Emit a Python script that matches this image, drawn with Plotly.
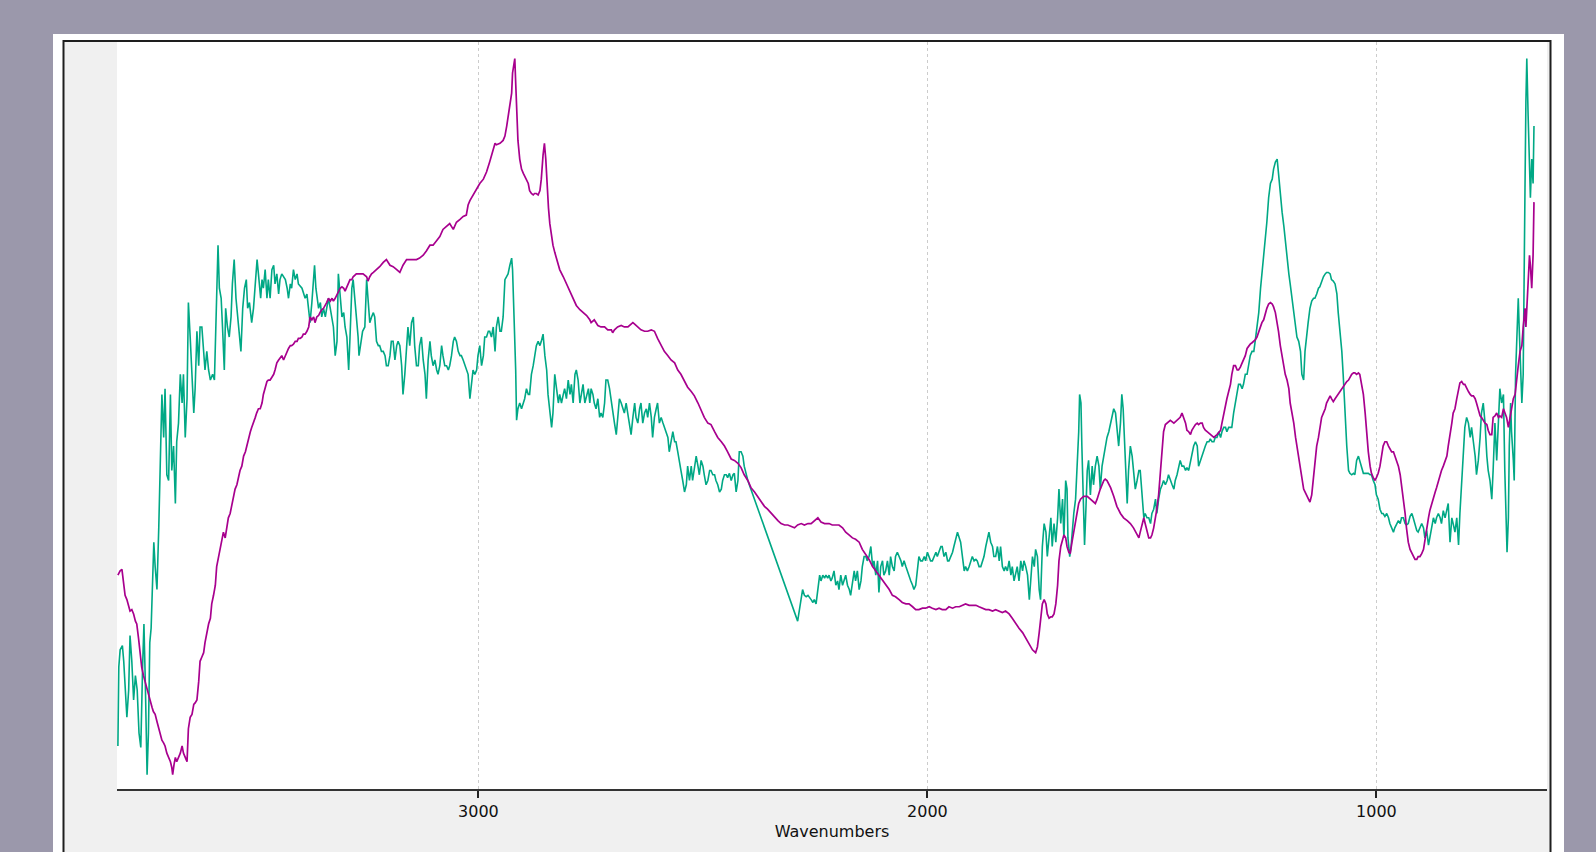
import plotly.graph_objects as go

# ---------------- data (arbitrary absorbance units) ----------------
green_wn = [3803,3801,3798,3793,3790,3787,3783,3779,3776,3772,3768,3764,3760,3756,3752,3748,3745,3742,3738,3735,3732,3729,3726,3723,3720,3716,3712,3708,3705,3701,3698,3694,3690,3686,3683,3679,3675,3672,3668,3664,3660,3657,3653,3649,3646,3642,3638,3634,3631,3627,3623,3620,3616,3612,3609,3605,3601,3597,3592,3588,3584,3580,3577,3573,3570,3566,3563,3559,3555,3551,3548,3544,3540,3536,3533,3529,3525,3521,3517,3514,3510,3505,3501,3497,3493,3490,3485,3482,3479,3475,3471,3468,3464,3460,3456,3453,3449,3445,3442,3438,3430,3426,3423,3419,3416,3412,3408,3404,3401,3393,3386,3382,3378,3375,3371,3367,3365,3362,3359,3356,3352,3349,3345,3341,3338,3334,3330,3326,3323,3319,3315,3312,3308,3304,3300,3297,3293,3289,3286,3282,
3279,3275,3272,3268,3266,3263,3258,3253,3249,3246,3242,3238,3234,3231,3227,3223,3220,3216,3212,3208,3205,3201,3197,3194,3190,3186,3182,3179,3175,3171,3168,3164,3160,3157,3153,3149,3145,3142,3138,3134,3131,3127,3123,3119,3116,3112,3108,3105,3101,3097,3093,3090,3086,3082,3079,3075,3071,3067,3064,3060,3056,3053,3049,3045,3041,3038,3034,3030,3027,3023,3019,3015,3012,3008,3004,3001,2997,2993,2989,2986,2982,2978,2975,2971,2967,2963,2960,2956,2952,2949,2945,2941,2937,2934,2930,2926,2924,2922,2920,2917,2915,2912,2908,2904,2900,2897,2893,2889,2886,2882,2878,2875,2871,2867,2863,2860,2856,2852,2848,2845,2841,2837,2834,2830,2826,2822,2819,2815,2811,2808,2804,2800,2796,2793,2789,2785,2782,2778,2774,2770,2767,2763,2759,2755,2752,
2749,2745,2742,2738,2734,2730,2727,2723,2719,2716,2712,2708,2704,2701,2697,2693,2690,2686,2682,2678,2675,2671,2667,2664,2660,2656,2652,2649,2645,2641,2638,2634,2630,2626,2623,2619,2615,2612,2608,2604,2601,2597,2593,2589,2586,2582,2578,2575,2571,2567,2563,2560,2556,2552,2549,2545,2541,2537,2534,2530,2526,2523,2519,2515,2511,2508,2504,2500,2497,2493,2489,2485,2482,2478,2474,2471,2467,2463,2459,2456,2452,2448,2445,2441,2437,2433,2430,2426,2422,2419,2415,2411,2408,2400,2289,2285,2281,2278,2274,2270,2266,2263,2259,2255,2252,2248,2244,2240,2237,2233,2229,2226,2222,
2219,2215,2212,2208,2204,2200,2197,2193,2189,2186,2182,2178,2174,2171,2167,2163,2160,2156,2152,2148,2145,2141,2137,2134,2130,2126,2122,2119,2115,2111,2108,2104,2100,2097,2093,2089,2085,2082,2078,2074,2071,2067,2063,2059,2056,2052,2048,2045,2041,2037,2033,2030,2026,2022,2019,2015,2011,2007,2004,2000,1996,1993,1989,1985,1981,1978,1974,1970,1967,1963,1959,1955,1952,1948,1944,1941,1937,1933,1929,1926,1922,1918,1915,1911,1907,1903,1900,1896,1892,1889,1885,1881,1877,1874,1870,1866,1863,1859,1855,1852,1848,1844,1840,1837,1833,1829,1826,1822,1818,1814,1811,1807,1803,1800,1796,1792,1788,1785,1781,1777,1773,1770,1766,1762,1759,1755,1751,1748,1744,1740,1736,1733,1729,1725,1722,1718,1714,1710,1707,1703,1699,1696,1692,
1689,1687,1683,1680,1677,1674,1670,1667,1663,1661,1658,1656,1653,1650,1647,1644,1641,1637,1633,1630,1626,1622,1618,1615,1611,1607,1604,1600,1596,1592,1589,1585,1581,1578,1574,1570,1567,1564,1561,1558,1555,1552,1548,1544,1541,1537,1533,1529,1526,1522,1518,1515,1511,1507,1503,1500,1496,1492,1489,1485,1481,1477,1474,1470,1466,1463,1459,1455,1451,1448,1444,1440,1437,1433,1429,1425,1422,1418,1414,1411,1407,1403,1399,1396,1392,1388,1385,1381,1377,1373,1370,1366,1362,1359,1355,1351,1347,1344,1340,1336,1333,1329,1325,1322,1318,1314,1310,1307,1303,1299,1296,1292,1288,1284,1281,1277,1273,1270,1266,1262,1258,1255,1251,1247,1244,1240,1236,1232,1229,1225,1221,1218,1214,1210,1206,1203,1199,1195,1192,1188,1184,1180,1177,1173,1169,1166,1162,
1159,1155,1152,1148,1144,1140,1137,1133,1129,1126,1122,1118,1114,1111,1107,1103,1100,1096,1092,1088,1085,1081,1077,1074,1070,1066,1062,1059,1055,1051,1048,1044,1040,1037,1033,1029,1025,1022,1018,1014,1011,1007,1003,1000,996,992,988,985,981,977,973,970,966,962,959,955,951,947,944,940,936,933,929,925,921,918,914,910,907,903,899,895,892,888,884,881,877,873,869,866,862,858,855,851,847,843,840,836,832,829,825,821,817,814,810,806,803,799,795,791,788,784,780,777,773,769,766,762,758,754,751,747,743,740,736,732,728,725,721,717,714,711,709,706,704,701,699,695,693,690,687,684,682,679,676,673,671,669,667,665,662,660,657,654,651,649]

green_abs = [257,312,324,327,316,302,277,296,334,316,289,306,296,266,256,312,342,302,237,266,329,339,379,399,382,366,409,456,502,472,506,446,442,502,449,466,426,469,482,516,496,516,472,499,566,542,516,489,506,546,522,549,549,532,519,532,519,512,516,512,569,606,576,569,549,519,562,549,542,556,579,596,569,556,542,532,562,576,582,562,566,552,562,582,596,586,569,582,576,589,569,582,569,589,592,579,586,572,582,586,582,576,569,579,576,589,582,586,579,576,569,572,559,552,566,589,592,576,569,562,566,556,562,556,562,569,562,556,549,529,539,586,569,556,559,549,542,519,542,576,
582,569,556,542,529,536,546,549,582,569,552,556,559,556,539,536,536,532,532,529,522,522,529,539,539,526,536,539,536,522,502,516,536,549,536,552,556,536,522,522,536,542,526,516,499,526,539,529,522,526,519,516,522,536,529,522,522,519,522,529,539,542,539,532,529,529,526,522,519,516,499,509,519,516,519,529,536,522,529,542,542,546,546,542,549,532,549,556,546,546,556,582,584,586,592,597,589,562,549,519,484,492,496,492,496,499,506,502,502,516,522,529,536,539,536,539,544,529,519,502,492,479,489,516,506,496,502,496,502,506,499,512,502,509,496,516,519,512,496,502,509,496,502,506,496,
506,502,496,492,499,486,489,486,496,512,512,506,496,489,482,474,486,499,496,492,489,496,489,482,474,486,496,486,482,492,496,482,489,492,486,496,486,472,486,492,496,482,486,482,479,476,472,462,469,476,469,469,462,456,449,442,434,439,452,442,452,442,452,459,452,446,456,452,446,439,442,449,449,446,446,442,439,434,436,442,446,446,444,447,442,446,447,434,442,462,462,459,452,442,344,352,362,366,362,361,362,361,359,357,359,356,366,376,372,376,374,376,374,
376,372,374,379,369,372,366,376,369,372,376,369,366,362,372,379,372,379,366,372,382,389,389,386,389,396,382,386,376,386,364,382,386,376,379,386,376,389,382,379,389,392,389,386,382,386,382,379,376,372,369,366,369,379,389,386,386,389,386,392,389,386,386,389,392,389,392,396,396,389,392,386,386,389,392,396,402,406,402,399,389,379,382,379,382,386,389,386,387,386,382,382,386,389,396,402,406,399,396,389,389,396,386,396,382,379,382,379,386,376,382,372,379,382,372,386,379,386,382,376,359,372,389,382,394,389,366,359,396,412,406,389,406,416,396,412,399,416,436,412,429,402,442,
436,402,389,396,409,419,429,449,476,502,496,466,429,397,422,449,456,432,452,439,452,459,452,436,452,459,466,472,476,482,486,492,489,479,466,482,502,492,472,449,426,449,466,459,449,436,442,449,449,429,416,419,416,416,412,419,422,429,419,429,436,439,442,439,442,446,442,439,436,442,446,452,456,452,452,449,451,449,456,459,466,469,466,452,456,459,462,466,469,469,471,469,469,472,472,476,472,476,479,479,476,479,479,479,489,496,502,509,509,506,509,516,516,522,529,532,532,539,549,559,576,586,596,609,622,639,649,652,659,664,666,656,639,629,619,609,596,586,579,569,562,552,542,539,532,516,512,
532,546,552,562,567,569,569,572,576,577,581,584,586,587,587,586,582,581,579,572,559,546,532,516,486,466,449,447,446,447,446,456,459,456,451,447,447,447,447,446,446,442,439,432,429,422,419,419,417,419,416,412,409,406,409,412,414,412,416,416,412,411,412,417,419,416,412,407,406,409,412,409,402,407,397,402,409,416,412,416,419,416,412,421,416,422,426,399,416,412,406,416,397,419,442,456,479,486,482,472,479,469,459,446,456,472,489,496,482,459,449,442,429,449,482,456,482,506,496,502,449,416,392,416,466,496,476,456,442,516,549,569,549,516,496,516,562,646,706,736,696,666,639,666,649,689]

purple_wn = [3803,3798,3794,3790,3787,3783,3779,3776,3772,3768,3764,3761,3757,3753,3750,3746,3742,3738,3735,3731,3727,3724,3720,3716,3712,3709,3705,3701,3698,3694,3690,3686,3683,3681,3678,3675,3672,3668,3664,3660,3657,3653,3649,3646,3642,3638,3634,3631,3627,3623,3620,3616,3612,3609,3605,3601,3597,3594,3590,3586,3583,3579,3575,3571,3568,3564,3560,3557,3553,3549,3545,3542,3538,3534,3531,3527,3523,3519,3516,3512,3508,3505,3501,3497,3494,3490,3486,3482,3479,3475,3471,3468,3464,3460,3456,3453,3449,3445,3442,3438,3434,3430,3427,3423,3419,3416,3412,3408,3404,3401,3397,3393,3390,3386,3382,3378,3375,3371,3367,3364,3360,3356,3353,3349,3345,3341,3338,3334,3330,3326,3323,3319,3315,3312,3308,3304,3300,3297,3293,3289,3286,3282,
3279,3272,3264,3257,3249,3246,3242,3238,3234,3227,3220,3212,3205,3197,3190,3182,3175,3168,3160,3153,3145,3138,3131,3123,3116,3108,3101,3093,3086,3079,3071,3064,3056,3049,3041,3034,3027,3023,3019,3012,3004,2997,2989,2982,2975,2967,2963,2960,2952,2945,2941,2937,2934,2930,2926,2924,2921,2919,2917,2914,2912,2908,2904,2900,2897,2893,2889,2886,2882,2878,2875,2871,2867,2863,2860,2856,2853,2850,2847,2844,2841,2837,2834,2830,2826,2819,2811,2804,2796,2789,2782,2774,2767,2759,2752,
2749,2742,2734,2727,2719,2712,2704,2701,2697,2690,2682,2675,2667,2660,2656,2652,2645,2638,2630,2623,2615,2608,2601,2593,2586,2578,2571,2563,2556,2549,2541,2534,2526,2519,2511,2504,2497,2489,2482,2474,2467,2459,2452,2445,2437,2430,2422,2415,2408,2400,2393,2385,2378,2370,2363,2356,2348,2341,2333,2326,2318,2311,2304,2296,2289,2281,2274,2266,2259,2252,2244,2237,2229,2222,
2219,2212,2204,2197,2189,2182,2174,2167,2160,2152,2145,2137,2130,2122,2115,2108,2100,2093,2085,2078,2071,2063,2056,2048,2041,2033,2026,2019,2011,2004,1996,1989,1981,1974,1967,1959,1952,1944,1937,1929,1922,1915,1907,1900,1892,1885,1877,1870,1863,1855,1848,1840,1833,1826,1818,1811,1803,1796,1788,1781,1773,1766,1759,1755,1751,1748,1744,1740,1736,1733,1729,1725,1722,1718,1714,1710,1707,1703,1699,1696,1692,
1689,1685,1682,1678,1674,1670,1667,1663,1659,1652,1644,1637,1630,1626,1622,1615,1607,1604,1600,1592,1585,1578,1570,1563,1555,1548,1541,1533,1529,1526,1522,1518,1515,1511,1507,1503,1500,1496,1492,1489,1485,1481,1477,1474,1470,1466,1459,1451,1444,1437,1433,1429,1425,1422,1418,1414,1411,1407,1403,1399,1396,1392,1388,1385,1381,1377,1370,1362,1355,1347,1344,1340,1336,1333,1329,1325,1322,1318,1314,1310,1307,1303,1299,1296,1292,1288,1284,1281,1277,1273,1270,1266,1262,1258,1255,1251,1247,1244,1240,1236,1232,1229,1225,1221,1218,1214,1210,1206,1203,1199,1195,1192,1188,1184,1180,1177,1173,1169,1166,1162,
1159,1155,1152,1148,1144,1140,1137,1133,1129,1126,1122,1118,1114,1111,1107,1103,1100,1096,1092,1088,1085,1081,1077,1074,1070,1066,1062,1059,1055,1051,1048,1044,1040,1037,1033,1029,1025,1022,1018,1014,1011,1007,1003,1000,996,992,988,985,981,977,973,970,966,962,959,955,951,947,944,940,936,933,929,925,921,918,914,910,907,903,899,895,892,888,884,881,877,873,869,866,862,858,855,851,847,843,840,836,832,829,825,821,817,814,810,806,803,799,795,791,788,784,780,777,773,769,766,762,758,754,751,747,743,740,736,732,728,725,721,717,714,710,706,702,699,695,691,688,684,680,676,673,669,667,665,662,659,657,654,651,649]

purple_abs = [376,379,380,369,362,359,354,351,352,349,344,342,332,319,312,306,301,297,292,287,284,281,279,274,269,264,261,259,257,252,249,246,242,237,244,249,246,249,252,257,252,249,246,269,277,279,286,287,289,302,316,319,322,329,336,342,346,356,362,369,382,389,396,402,406,402,409,416,419,426,432,436,439,446,449,452,459,462,466,472,476,479,482,486,489,492,492,496,502,506,511,512,512,514,516,519,524,526,527,529,526,529,532,534,536,536,537,539,539,541,541,542,544,544,546,549,556,554,556,552,556,557,559,561,562,564,566,569,567,569,567,569,572,574,576,577,576,574,577,581,582,582,
584,586,586,586,584,581,584,586,587,589,591,594,596,592,591,589,587,592,596,596,596,596,597,599,602,606,606,609,612,617,619,621,617,622,624,626,627,634,637,641,646,649,652,657,664,672,677,676,677,679,682,689,696,702,712,726,732,736,719,696,679,666,659,656,654,652,649,644,642,641,642,642,641,644,652,669,677,666,646,632,621,612,606,601,596,589,584,579,574,569,564,561,559,557,554,
552,554,550,549,549,547,547,545,547,549,550,549,549,551,552,551,549,547,546,546,547,546,541,536,532,529,526,524,519,516,511,507,504,501,496,491,486,482,481,476,472,469,466,462,457,456,454,451,446,442,437,434,431,427,424,422,419,417,414,412,411,411,410,409,411,412,411,412,412,414,416,413,412,412,
412,411,411,411,409,406,404,402,401,399,394,390,387,382,379,376,372,369,366,362,361,359,357,356,356,354,352,352,353,353,354,353,352,353,352,352,354,353,354,354,355,356,355,355,355,354,353,352,352,351,352,351,350,351,349,346,342,339,336,332,327,324,322,326,336,346,356,359,356,349,346,347,347,349,356,369,386,396,402,404,402,
396,392,391,399,406,412,419,426,429,431,431,429,427,426,429,436,442,443,442,437,431,424,419,416,414,412,409,404,402,406,412,416,412,406,402,402,404,409,416,422,432,449,462,476,481,482,484,482,484,486,489,486,482,477,476,474,477,479,481,482,481,482,482,479,477,476,474,472,474,477,482,489,494,499,504,509,516,522,522,519,519,521,524,526,529,534,536,537,538,539,540,542,546,549,552,554,559,562,565,566,565,563,559,552,546,536,529,522,516,512,506,496,489,482,472,466,459,452,444,436,
434,431,429,427,432,446,456,466,472,479,486,489,492,496,499,501,499,497,499,501,502,504,506,507,509,511,512,514,516,517,517,516,517,516,509,502,489,476,462,452,447,444,442,444,447,452,459,466,469,469,466,464,462,462,459,456,452,446,439,429,419,409,399,394,391,389,387,387,389,389,391,394,401,409,416,421,426,429,434,437,442,446,449,452,456,459,466,476,482,489,492,499,506,510,511,509,509,506,504,502,501,501,499,496,492,487,486,484,482,481,477,474,474,486,487,489,486,487,486,492,489,486,479,486,492,499,502,512,522,532,536,549,562,549,562,582,599,592,576,599,636]

tick_vals = [3000, 2000, 1000]
tick_text = ["3000", "2000", "1000"]
x_title = "Wavenumbers"

# ---------------- figure ----------------
W, H = 1596, 852
L, R, T, B = 117, 1547, 42, 789  # plot area in pixels


def px(x):
    return (x - L) / (R - L)


def py(y):
    return (B - y) / (B - T)


fig = go.Figure()
fig.add_trace(go.Scatter(x=green_wn, y=green_abs, mode="lines",
                         line=dict(color="#00A885", width=1.6), hoverinfo="skip"))
fig.add_trace(go.Scatter(x=purple_wn, y=purple_abs, mode="lines",
                         line=dict(color="#A8008E", width=1.7), hoverinfo="skip"))

shapes = [
    # white outer panel
    dict(type="rect", xref="paper", yref="paper", x0=px(53), x1=px(1564), y0=py(900), y1=py(34),
         fillcolor="white", line=dict(width=0), layer="below"),
    # gray framed region
    dict(type="rect", xref="paper", yref="paper", x0=px(63.5), x1=px(1550.5), y0=py(900), y1=py(41),
         fillcolor="#F0F0F0", line=dict(color="#1E1E1E", width=2), layer="below"),
    # white plotting area
    dict(type="rect", xref="paper", yref="paper", x0=0, x1=1, y0=0, y1=1,
         fillcolor="white", line=dict(width=0), layer="below"),
]

font = dict(family="DejaVu Sans, Verdana, sans-serif", size=16, color="#111111")

fig.update_layout(
    width=W, height=H,
    margin=dict(l=L, r=W - R, t=T, b=H - B, pad=0),
    paper_bgcolor="#9B98AB",
    plot_bgcolor="white",
    showlegend=False,
    shapes=shapes,
    font=font,
    xaxis=dict(
        range=[3805, 620], tickmode="array", tickvals=tick_vals, ticktext=tick_text,
        ticks="outside", ticklen=7, tickwidth=1.5, tickcolor="#222222",
        showline=True, linecolor="#333333", linewidth=1.5,
        showgrid=True, gridcolor="#CCCCCC", gridwidth=1, griddash="dot",
        zeroline=False, tickfont=font,
        title=dict(text=x_title, font=font, standoff=6),
    ),
    yaxis=dict(range=[227, 747.6], visible=False, showgrid=False, zeroline=False),
)

fig.write_html("out.html", config={"displayModeBar": False},
               post_script="document.body.style.margin='0';document.body.style.background='#9B98AB';")
